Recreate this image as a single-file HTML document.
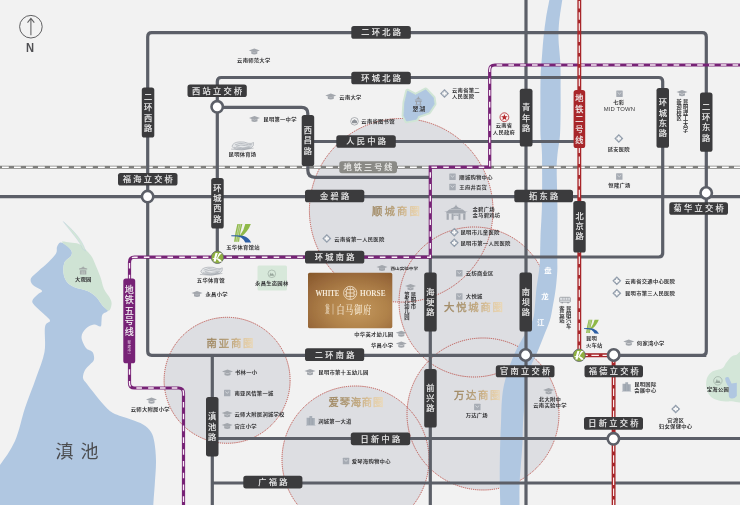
<!DOCTYPE html>
<html lang="zh-CN"><head><meta charset="utf-8"><title>区位图</title>
<style>html,body{margin:0;padding:0;background:#f2f2f2;overflow:hidden}svg{display:block}</style>
</head><body>
<svg width="740" height="505" viewBox="0 0 740 505" font-family='"Liberation Sans","Noto Sans CJK SC",sans-serif'>
<defs>
<radialGradient id="gold" cx="0.56" cy="0.62" r="0.8" fx="0.6" fy="0.7">
<stop offset="0" stop-color="#c3975c"/><stop offset="0.45" stop-color="#b0824a"/><stop offset="0.8" stop-color="#98683a"/><stop offset="1" stop-color="#885a2c"/>
</radialGradient>
<linearGradient id="sq" x1="0" y1="0" x2="1" y2="0">
<stop offset="0" stop-color="#9e8660"/><stop offset="0.3" stop-color="#ab956f"/><stop offset="0.55" stop-color="#c3a97f"/><stop offset="0.75" stop-color="#dec59c"/><stop offset="1" stop-color="#ecdab9"/>
</linearGradient>
</defs>
<filter id="soft" x="-2%" y="-2%" width="104%" height="104%"><feGaussianBlur stdDeviation="0.35"/></filter>
<g filter="url(#soft)">
<rect x="-10" y="-10" width="760" height="525" fill="#f2f2f2"/>
<path d="M60.3,242.5 C61.8,242.2 64.2,243.7 66.0,245.0 C67.8,246.3 70.3,248.5 71.2,250.3 C72.1,252.1 72.3,253.7 71.2,255.7 C70.1,257.7 65.9,259.4 64.6,262.3 C63.3,265.2 63.1,269.8 63.5,273.0 C63.9,276.2 65.0,279.4 66.8,281.8 C68.6,284.2 71.0,285.8 74.5,287.3 C78.0,288.8 83.9,289.4 87.5,291.0 C91.1,292.6 93.7,294.6 96.2,297.1 C98.7,299.6 100.7,303.6 102.7,305.8 C104.7,308.0 108.0,309.1 108.0,310.5 C108.0,311.9 103.6,312.8 102.5,314.5 C101.4,316.2 101.8,319.0 101.5,321.0 C101.2,323.0 101.8,325.9 100.5,326.5 C99.2,327.1 96.4,324.2 94.0,324.5 C91.6,324.8 88.1,326.4 86.0,328.5 C83.9,330.6 81.5,333.8 81.5,337.0 C81.5,340.2 84.2,345.5 86.0,348.0 C87.8,350.5 91.2,350.1 92.5,352.0 C93.8,353.9 94.4,357.4 94.0,359.5 C93.6,361.6 91.5,362.8 90.0,364.5 C88.5,366.2 86.2,367.8 85.0,370.0 C83.8,372.2 82.7,375.7 83.0,378.0 C83.3,380.3 85.2,381.5 87.0,384.0 C88.8,386.5 91.3,389.7 94.0,393.0 C96.7,396.3 99.8,400.7 103.0,404.0 C106.2,407.3 108.3,410.4 113.0,413.0 C117.7,415.6 126.0,417.6 131.0,419.5 C136.0,421.4 139.7,422.4 143.0,424.5 C146.3,426.6 149.1,428.9 151.0,432.0 C152.9,435.1 153.7,438.2 154.5,443.0 C155.3,447.8 155.9,454.2 156.0,461.0 C156.1,467.8 155.2,477.5 154.8,484.0 C154.4,490.5 153.9,495.3 153.6,500.0 C153.3,504.7 153.2,507.0 153.0,512.0 C152.8,517.0 181.3,527.0 152.5,530.0 C123.7,533.0 7.4,538.3 -20.0,530.0 C-47.4,521.7 -15.3,490.8 -12.0,480.0 C-8.7,469.2 -4.5,471.5 0.0,465.0 C4.5,458.5 10.8,450.5 15.0,441.0 C19.2,431.5 21.5,418.5 25.0,408.0 C28.5,397.5 32.8,387.3 36.0,378.0 C39.2,368.7 43.0,360.5 44.5,352.0 C46.0,343.5 44.1,332.2 45.0,327.0 C45.9,321.8 49.8,322.8 50.0,321.0 C50.2,319.2 47.7,317.8 46.0,316.0 C44.3,314.2 41.8,312.3 39.6,310.2 C37.4,308.1 34.1,305.4 33.0,303.6 C31.9,301.8 32.1,300.9 33.0,299.3 C33.9,297.7 37.0,295.2 38.5,293.8 C40.0,292.4 42.7,292.1 41.8,290.6 C40.9,289.2 34.8,287.1 33.0,285.1 C31.2,283.1 30.0,281.0 30.9,278.6 C31.8,276.2 35.6,273.7 38.5,271.0 C41.4,268.3 45.4,265.2 48.3,262.3 C51.2,259.4 54.5,256.1 56.0,253.5 C57.5,250.9 56.3,248.8 57.0,247.0 C57.7,245.2 58.8,242.8 60.3,242.5Z" fill="#b0c7e1"/>
<path d="M62.0,241.6 C62.7,241.1 67.2,242.1 70.0,242.5 C72.8,242.9 76.5,242.9 79.0,244.0 C81.5,245.1 83.2,247.1 85.3,249.2 C87.4,251.3 90.0,253.9 91.8,256.8 C93.6,259.7 94.7,263.2 96.2,266.6 C97.7,270.1 99.3,273.9 100.6,277.5 C101.9,281.1 102.3,285.1 103.8,288.4 C105.2,291.7 108.0,294.6 109.3,297.1 C110.6,299.6 111.6,301.3 111.6,303.6 C111.5,305.9 110.5,310.4 109.0,310.8 C107.5,311.2 104.8,308.1 102.7,305.8 C100.6,303.5 98.7,299.6 96.2,297.1 C93.7,294.6 91.1,292.6 87.5,291.0 C83.9,289.4 78.0,288.8 74.5,287.3 C71.0,285.8 68.6,284.2 66.8,281.8 C65.0,279.4 63.9,276.2 63.5,273.0 C63.1,269.8 63.3,265.2 64.6,262.3 C65.9,259.4 70.1,257.7 71.2,255.7 C72.3,253.7 72.1,252.0 71.2,250.3 C70.3,248.6 67.5,246.9 66.0,245.5 C64.5,244.1 61.3,242.1 62.0,241.6Z" fill="#cfe3d4"/>
<path d="M63.3,221.6 C70,227.5 82,238 85.6,251 L82.6,249 C80,241 70,231 63.3,221.6Z" fill="#d3e6d7" stroke="#b9cfdf" stroke-width="0.4"/>
<path d="M745.0,353.0 C743.5,345.8 738.3,354.4 736.0,355.0 C733.7,355.6 733.0,355.4 731.3,356.7 C729.6,358.0 727.5,361.1 726.0,363.0 C724.5,364.9 724.8,366.8 722.4,368.3 C720.0,369.8 714.3,370.1 711.7,371.9 C709.1,373.7 707.5,376.2 706.7,379.0 C705.9,381.8 706.0,385.8 706.7,388.8 C707.4,391.8 708.8,394.9 710.8,396.8 C712.8,398.7 715.4,399.6 718.8,400.4 C722.2,401.1 726.9,401.7 731.3,401.3 C735.7,400.9 742.7,406.1 745.0,398.0 C747.3,389.9 746.5,360.2 745.0,353.0Z" fill="#d3e6d8"/>
<path d="M725.2,378 Q727,376.5 728.8,377.5 L731.5,383.5 L736.8,382.8 L736.8,396 Q734,399.5 730.5,398.3 Q728.5,397.5 728.8,394 L728.8,387 Q725,382 725.2,378Z" fill="#b0c7e1"/>
<rect x="257.5" y="265.5" width="29.5" height="25" rx="1.5" fill="#d7e8da"/>
<circle cx="401.2" cy="210.3" r="91.8" fill="#dddee2"/>
<circle cx="474.0" cy="302.0" r="75.0" fill="#dddee2"/>
<circle cx="483.0" cy="414.0" r="76.0" fill="#dddee2"/>
<circle cx="355.5" cy="459.5" r="73.5" fill="#dddee2"/>
<circle cx="227.1" cy="380.3" r="63.0" fill="#dddee2"/>
<circle cx="401.2" cy="210.3" r="91.8" fill="none" stroke="#b8443c" stroke-width="0.9" stroke-dasharray="1.2 0.9"/>
<circle cx="474.0" cy="302.0" r="75.0" fill="none" stroke="#b8443c" stroke-width="0.9" stroke-dasharray="1.2 0.9"/>
<circle cx="483.0" cy="414.0" r="76.0" fill="none" stroke="#b8443c" stroke-width="0.9" stroke-dasharray="1.2 0.9"/>
<circle cx="355.5" cy="459.5" r="73.5" fill="none" stroke="#b8443c" stroke-width="0.9" stroke-dasharray="1.2 0.9"/>
<circle cx="227.1" cy="380.3" r="63.0" fill="none" stroke="#b8443c" stroke-width="0.9" stroke-dasharray="1.2 0.9"/>
<path d="M407.5,91.1 L415.5,95.2 L425.7,89.8 L433.3,97.8 L434.2,104.1 L428.9,112.1 L418.2,115.7 L416.4,119.2 L406.6,121 L403.9,115.7 L404.8,102.3Z" fill="#b0c7e1" stroke="#d0e5d5" stroke-width="4.6" stroke-linejoin="round"/>
<path d="M407.5,91.1 L415.5,95.2 L425.7,89.8 L433.3,97.8 L434.2,104.1 L428.9,112.1 L418.2,115.7 L416.4,119.2 L406.6,121 L403.9,115.7 L404.8,102.3Z" fill="#b0c7e1" stroke="#b0c7e1" stroke-width="0.8" stroke-linejoin="round"/>
<path d="M550.0,-3.0 C549.3,0.5 547.0,11.5 546.0,18.0 C545.0,24.5 544.4,29.7 543.7,36.0 C543.0,42.3 542.5,49.2 542.0,56.0 C541.5,62.8 540.9,68.0 540.6,77.0 C540.3,86.0 540.4,100.3 540.4,110.0 C540.4,119.7 540.2,127.5 540.5,135.0 C540.8,142.5 541.8,143.7 542.0,155.0 C542.2,166.3 542.2,189.3 542.0,203.0 C541.8,216.7 540.8,227.8 540.5,237.0 C540.2,246.2 540.2,252.3 540.0,258.0 C539.8,263.7 539.6,266.0 539.0,271.0 C538.4,276.0 537.2,282.3 536.5,288.0 C535.8,293.7 535.6,299.7 535.0,305.0 C534.4,310.3 534.6,314.9 532.8,320.0 C531.0,325.1 526.9,330.5 524.0,335.8 C521.1,341.1 517.9,346.4 515.4,351.7 C512.9,357.0 510.9,362.2 509.0,367.5 C507.1,372.8 505.5,378.0 504.3,383.4 C503.1,388.8 502.4,393.4 501.9,400.0 C501.3,406.6 501.3,415.8 501.0,423.0 C500.7,430.2 500.4,436.3 500.2,443.0 C500.0,449.7 499.9,456.3 499.8,463.0 C499.7,469.7 499.7,475.5 499.8,483.0 C499.9,490.5 500.3,503.8 500.4,508.0 L519.5,508.0 C519.5,503.8 519.4,490.5 519.6,483.0 C519.9,475.5 520.5,469.7 521.0,463.0 C521.5,456.3 522.2,449.7 522.5,443.0 C522.8,436.3 522.6,430.2 523.0,423.0 C523.4,415.8 524.3,406.6 524.9,400.0 C525.5,393.4 525.6,388.8 526.5,383.4 C527.4,378.0 528.6,372.8 530.4,367.5 C532.2,362.2 535.2,357.0 537.5,351.7 C539.8,346.4 541.8,341.1 543.9,335.8 C546.0,330.5 548.5,325.1 550.0,320.0 C551.5,314.9 552.0,310.3 553.0,305.0 C554.0,299.7 555.1,293.7 555.8,288.0 C556.5,282.3 557.0,276.0 557.3,271.0 C557.5,266.0 557.3,263.7 557.3,258.0 C557.3,252.3 557.4,246.0 557.4,237.0 C557.4,228.0 557.5,215.2 557.4,204.0 C557.3,192.8 556.7,178.2 556.7,170.0 C556.7,161.8 556.9,160.8 557.4,155.0 C557.9,149.2 559.5,142.3 560.0,135.0 C560.5,127.7 560.5,118.8 560.6,111.0 C560.7,103.2 560.6,95.8 560.6,88.0 C560.6,80.2 560.7,71.8 560.4,64.0 C560.1,56.2 558.9,47.0 558.6,41.0 C558.3,35.0 558.5,32.3 558.7,28.0 C558.9,23.7 559.3,20.2 560.0,15.0 C560.7,9.8 562.3,0.0 562.8,-3.0 Z" fill="#b0c7e1"/>
<path d="M-10,167.2H750" stroke="#80807e" stroke-width="3" fill="none"/>
<path d="M-10,167.2H750" stroke="#ffffff" stroke-width="1.35" stroke-dasharray="6.8 5.2" fill="none"/>
<path d="M706.3,355.3 H151.7 Q147.7,355.3 147.7,351.3 V36.7 Q147.7,32.7 151.7,32.7 H702.3 Q706.3,32.7 706.3,36.7 V351.3 Q706.3,355.3 702.3,355.3" stroke="#5b5f67" stroke-width="3.2" fill="none"/>
<path d="M217.3,257 V81.5 Q217.3,77.5 221.3,77.5 H658.7 Q662.7,77.5 662.7,81.5 V253 Q662.7,257 658.7,257 H217.3" stroke="#5b5f67" stroke-width="3.2" fill="none"/>
<path d="M217.3,107.3 H301.5 Q307.8,107.3 307.8,113.5 V170 Q307.8,177.3 315,177.3 H432" stroke="#5b5f67" stroke-width="3.2" fill="none"/>
<path d="M307.8,141.5 H575" stroke="#5b5f67" stroke-width="3.2" fill="none"/>
<path d="M-10,196.6 H750" stroke="#5b5f67" stroke-width="3.2" fill="none"/>
<path d="M212.3,355 V515" stroke="#5b5f67" stroke-width="3.2" fill="none"/>
<path d="M212.3,438.5 H750" stroke="#5b5f67" stroke-width="3.2" fill="none"/>
<path d="M212.3,483 H750" stroke="#5b5f67" stroke-width="3.2" fill="none"/>
<path d="M430.3,257 V515" stroke="#5b5f67" stroke-width="3.2" fill="none"/>
<path d="M526,-10 V515" stroke="#5b5f67" stroke-width="3.2" fill="none"/>
<path d="M750,65 H495 Q489.7,65 489.7,70 V167.2 H430.3 V257.2 H134.5 Q129.5,257.2 129.5,262.2 V383 Q129.5,388 134.5,388 H178.5 Q183.5,388 183.5,393 V515" stroke="#772376" stroke-width="3.2" fill="none"/>
<path d="M750,65 H495 Q489.7,65 489.7,70 V167.2 H430.3 V257.2 H134.5 Q129.5,257.2 129.5,262.2 V383 Q129.5,388 134.5,388 H178.5 Q183.5,388 183.5,393 V515" stroke="#faeef8" stroke-width="1.35" stroke-dasharray="5.6 6.2" fill="none"/>
<path d="M579.3,-10 V355.3 H613.6 V515" stroke="#a8282b" stroke-width="3.9" fill="none"/>
<path d="M579.3,-10 V355.3 H613.6 V515" stroke="#fdf0f0" stroke-width="1.15" stroke-dasharray="7.5 3.6" fill="none"/>
<rect x="351.3" y="26.0" width="59.5" height="12.8" rx="2.6" fill="#3a3a3c"/>
<text x="382.2" y="35.3" font-size="8.2" font-weight="400" stroke="#f4f4f4" stroke-width="0.15" letter-spacing="2.3" text-anchor="middle" fill="#f4f4f4">二环北路</text>
<rect x="351.3" y="71.7" width="59.5" height="12.6" rx="2.6" fill="#3a3a3c"/>
<text x="382.2" y="80.9" font-size="8.2" font-weight="400" stroke="#f4f4f4" stroke-width="0.15" letter-spacing="2.3" text-anchor="middle" fill="#f4f4f4">环城北路</text>
<rect x="336.3" y="135.2" width="59.5" height="12.6" rx="2.6" fill="#3a3a3c"/>
<text x="367.2" y="144.4" font-size="8.2" font-weight="400" stroke="#f4f4f4" stroke-width="0.15" letter-spacing="2.3" text-anchor="middle" fill="#f4f4f4">人民中路</text>
<rect x="339.3" y="161.2" width="57.7" height="12.0" rx="2.6" fill="#8a8a86"/>
<text x="369.1" y="170.1" font-size="8.2" font-weight="400" stroke="#f0f0ee" stroke-width="0.15" letter-spacing="2.0" text-anchor="middle" fill="#f0f0ee">地铁三号线</text>
<rect x="305.0" y="189.7" width="59.3" height="12.6" rx="2.6" fill="#3a3a3c"/>
<text x="335.8" y="198.9" font-size="8.2" font-weight="400" stroke="#f4f4f4" stroke-width="0.15" letter-spacing="2.3" text-anchor="middle" fill="#f4f4f4">金碧路</text>
<rect x="514.3" y="189.7" width="58.7" height="12.6" rx="2.6" fill="#3a3a3c"/>
<text x="544.8" y="198.9" font-size="8.2" font-weight="400" stroke="#f4f4f4" stroke-width="0.15" letter-spacing="2.3" text-anchor="middle" fill="#f4f4f4">拓东路</text>
<rect x="305.0" y="250.7" width="59.3" height="12.8" rx="2.6" fill="#3a3a3c"/>
<text x="335.8" y="260.0" font-size="8.2" font-weight="400" stroke="#f4f4f4" stroke-width="0.15" letter-spacing="2.3" text-anchor="middle" fill="#f4f4f4">环城南路</text>
<rect x="305.0" y="348.3" width="59.2" height="12.7" rx="2.6" fill="#3a3a3c"/>
<text x="335.8" y="357.5" font-size="8.2" font-weight="400" stroke="#f4f4f4" stroke-width="0.15" letter-spacing="2.3" text-anchor="middle" fill="#f4f4f4">二环南路</text>
<rect x="350.8" y="432.6" width="59.4" height="12.6" rx="2.6" fill="#3a3a3c"/>
<text x="381.6" y="441.8" font-size="8.2" font-weight="400" stroke="#f4f4f4" stroke-width="0.15" letter-spacing="2.3" text-anchor="middle" fill="#f4f4f4">日新中路</text>
<rect x="243.3" y="475.8" width="59.1" height="12.6" rx="2.6" fill="#3a3a3c"/>
<text x="274.0" y="485.0" font-size="8.2" font-weight="400" stroke="#f4f4f4" stroke-width="0.15" letter-spacing="2.3" text-anchor="middle" fill="#f4f4f4">广福路</text>
<rect x="141.8" y="87.5" width="12.5" height="50.0" rx="2.6" fill="#3a3a3c"/>
<text font-size="8.2" font-weight="400" stroke="#f4f4f4" stroke-width="0.15" text-anchor="middle" fill="#f4f4f4"><tspan x="148.1" y="99.9">二</tspan><tspan x="148.1" y="110.2">环</tspan><tspan x="148.1" y="120.5">西</tspan><tspan x="148.1" y="130.8">路</tspan></text>
<rect x="211.2" y="178.0" width="12.5" height="50.5" rx="2.6" fill="#3a3a3c"/>
<text font-size="8.2" font-weight="400" stroke="#f4f4f4" stroke-width="0.15" text-anchor="middle" fill="#f4f4f4"><tspan x="217.4" y="190.7">环</tspan><tspan x="217.4" y="201.0">城</tspan><tspan x="217.4" y="211.3">西</tspan><tspan x="217.4" y="221.6">路</tspan></text>
<rect x="301.7" y="115.0" width="12.5" height="51.0" rx="2.6" fill="#3a3a3c"/>
<text font-size="8.2" font-weight="400" stroke="#f4f4f4" stroke-width="0.15" text-anchor="middle" fill="#f4f4f4"><tspan x="307.9" y="133.1">西</tspan><tspan x="307.9" y="143.4">昌</tspan><tspan x="307.9" y="153.7">路</tspan></text>
<rect x="206.0" y="397.0" width="12.5" height="59.4" rx="2.6" fill="#3a3a3c"/>
<text font-size="8.2" font-weight="400" stroke="#f4f4f4" stroke-width="0.15" text-anchor="middle" fill="#f4f4f4"><tspan x="212.2" y="419.3">滇</tspan><tspan x="212.2" y="429.6">池</tspan><tspan x="212.2" y="439.9">路</tspan></text>
<rect x="424.2" y="272.5" width="12.5" height="59.0" rx="2.6" fill="#3a3a3c"/>
<text font-size="8.2" font-weight="400" stroke="#f4f4f4" stroke-width="0.15" text-anchor="middle" fill="#f4f4f4"><tspan x="430.4" y="294.6">海</tspan><tspan x="430.4" y="304.9">埂</tspan><tspan x="430.4" y="315.2">路</tspan></text>
<rect x="424.2" y="369.0" width="12.5" height="58.5" rx="2.6" fill="#3a3a3c"/>
<text font-size="8.2" font-weight="400" stroke="#f4f4f4" stroke-width="0.15" text-anchor="middle" fill="#f4f4f4"><tspan x="430.4" y="390.8">前</tspan><tspan x="430.4" y="401.1">兴</tspan><tspan x="430.4" y="411.4">路</tspan></text>
<rect x="519.8" y="88.7" width="12.7" height="57.8" rx="2.6" fill="#3a3a3c"/>
<text font-size="8.2" font-weight="400" stroke="#f4f4f4" stroke-width="0.15" text-anchor="middle" fill="#f4f4f4"><tspan x="526.1" y="110.2">青</tspan><tspan x="526.1" y="120.5">年</tspan><tspan x="526.1" y="130.8">路</tspan></text>
<rect x="519.5" y="272.5" width="12.5" height="59.0" rx="2.6" fill="#3a3a3c"/>
<text font-size="8.2" font-weight="400" stroke="#f4f4f4" stroke-width="0.15" text-anchor="middle" fill="#f4f4f4"><tspan x="525.8" y="294.6">南</tspan><tspan x="525.8" y="304.9">坝</tspan><tspan x="525.8" y="315.2">路</tspan></text>
<rect x="573.6" y="90.0" width="11.6" height="58.0" rx="2.6" fill="#a8282b"/>
<text font-size="8.2" font-weight="400" stroke="#f4f4f4" stroke-width="0.15" text-anchor="middle" fill="#f4f4f4"><tspan x="579.4" y="101.3">地</tspan><tspan x="579.4" y="111.6">铁</tspan><tspan x="579.4" y="121.9">二</tspan><tspan x="579.4" y="132.2">号</tspan><tspan x="579.4" y="142.5">线</tspan></text>
<rect x="573.3" y="201.0" width="12.4" height="51.6" rx="2.6" fill="#3a3a3c"/>
<text font-size="8.2" font-weight="400" stroke="#f4f4f4" stroke-width="0.15" text-anchor="middle" fill="#f4f4f4"><tspan x="579.5" y="218.6">北</tspan><tspan x="579.5" y="228.9">京</tspan><tspan x="579.5" y="239.2">路</tspan></text>
<rect x="656.5" y="88.0" width="12.5" height="59.8" rx="2.6" fill="#3a3a3c"/>
<text font-size="8.2" font-weight="400" stroke="#f4f4f4" stroke-width="0.15" text-anchor="middle" fill="#f4f4f4"><tspan x="662.8" y="105.3">环</tspan><tspan x="662.8" y="115.6">城</tspan><tspan x="662.8" y="125.9">东</tspan><tspan x="662.8" y="136.2">路</tspan></text>
<rect x="700.0" y="92.5" width="12.5" height="59.3" rx="2.6" fill="#3a3a3c"/>
<text font-size="8.2" font-weight="400" stroke="#f4f4f4" stroke-width="0.15" text-anchor="middle" fill="#f4f4f4"><tspan x="706.2" y="109.6">二</tspan><tspan x="706.2" y="119.9">环</tspan><tspan x="706.2" y="130.2">东</tspan><tspan x="706.2" y="140.5">路</tspan></text>
<rect x="123.3" y="278.5" width="11.9" height="84.8" rx="2.6" fill="#772376"/>
<text font-size="9.0" font-weight="400" stroke="#f4f4f4" stroke-width="0.15" text-anchor="middle" fill="#f4f4f4"><tspan x="129.2" y="292.9">地</tspan><tspan x="129.2" y="303.4">铁</tspan><tspan x="129.2" y="313.8">五</tspan><tspan x="129.2" y="324.1">号</tspan><tspan x="129.2" y="334.6">线</tspan></text>
<text font-size="3.6" text-anchor="middle" fill="#f0dcee"><tspan x="129.3" y="340.5">︵</tspan><tspan x="129.3" y="344.4">在</tspan><tspan x="129.3" y="348.3">建</tspan><tspan x="129.3" y="352.2">中</tspan><tspan x="129.3" y="356.1">︶</tspan></text>
<circle cx="217.2" cy="106.8" r="5.7" fill="#ffffff" stroke="#5b5f67" stroke-width="2.6"/>
<rect x="187.5" y="84.5" width="59.3" height="12.5" rx="2.6" fill="#3a3a3c"/>
<text x="218.3" y="93.6" font-size="8.2" font-weight="400" stroke="#f4f4f4" stroke-width="0.15" letter-spacing="2.3" text-anchor="middle" fill="#f4f4f4">西站立交桥</text>
<circle cx="147.6" cy="196.6" r="5.7" fill="#ffffff" stroke="#5b5f67" stroke-width="2.6"/>
<rect x="118.0" y="173.0" width="59.5" height="12.5" rx="2.6" fill="#3a3a3c"/>
<text x="148.9" y="182.1" font-size="8.2" font-weight="400" stroke="#f4f4f4" stroke-width="0.15" letter-spacing="2.3" text-anchor="middle" fill="#f4f4f4">福海立交桥</text>
<circle cx="706.2" cy="193.0" r="5.7" fill="#ffffff" stroke="#5b5f67" stroke-width="2.6"/>
<rect x="669.3" y="202.3" width="58.7" height="12.5" rx="2.6" fill="#3a3a3c"/>
<text x="699.8" y="211.4" font-size="8.2" font-weight="400" stroke="#f4f4f4" stroke-width="0.15" letter-spacing="2.3" text-anchor="middle" fill="#f4f4f4">菊华立交桥</text>
<circle cx="525.6" cy="355.0" r="5.7" fill="#ffffff" stroke="#5b5f67" stroke-width="2.6"/>
<rect x="495.8" y="365.3" width="58.7" height="12.0" rx="2.6" fill="#3a3a3c"/>
<text x="526.3" y="374.2" font-size="8.2" font-weight="400" stroke="#f4f4f4" stroke-width="0.15" letter-spacing="2.3" text-anchor="middle" fill="#f4f4f4">官南立交桥</text>
<circle cx="613.7" cy="355.0" r="5.7" fill="#ffffff" stroke="#5b5f67" stroke-width="2.6"/>
<rect x="584.5" y="365.3" width="58.5" height="12.0" rx="2.6" fill="#3a3a3c"/>
<text x="614.9" y="374.2" font-size="8.2" font-weight="400" stroke="#f4f4f4" stroke-width="0.15" letter-spacing="2.3" text-anchor="middle" fill="#f4f4f4">福德立交桥</text>
<circle cx="613.4" cy="438.8" r="5.7" fill="#ffffff" stroke="#5b5f67" stroke-width="2.6"/>
<rect x="584.0" y="417.0" width="59.0" height="12.8" rx="2.6" fill="#3a3a3c"/>
<text x="614.6" y="426.3" font-size="8.2" font-weight="400" stroke="#f4f4f4" stroke-width="0.15" letter-spacing="2.3" text-anchor="middle" fill="#f4f4f4">日新立交桥</text>
<circle cx="217.4" cy="257.3" r="6.2" fill="#8fb040" stroke="#61666c" stroke-width="0.85"/>
<g transform="translate(212.70,253.10) scale(0.62)" fill="#ffffff"><path d="M4.6,0 L8.2,0 Q6,6 5,13.4 L1.4,13.4 Q2.6,6 4.6,0Z"/><path d="M10.7,0 L14.8,0 Q10.5,4 8,9.2 L6.6,8.6 Q8,3.5 10.7,0Z"/><path d="M0,8.1 Q6,7.9 9.4,8.9 Q13.4,10.3 15,14 L10.4,13.9 Q9.6,11.8 7.4,10.4 Q5,9.3 0,9.1Z"/></g>
<circle cx="579.2" cy="355.3" r="6.2" fill="#8fb040" stroke="#61666c" stroke-width="0.85"/>
<g transform="translate(574.50,351.10) scale(0.62)" fill="#ffffff"><path d="M4.6,0 L8.2,0 Q6,6 5,13.4 L1.4,13.4 Q2.6,6 4.6,0Z"/><path d="M10.7,0 L14.8,0 Q10.5,4 8,9.2 L6.6,8.6 Q8,3.5 10.7,0Z"/><path d="M0,8.1 Q6,7.9 9.4,8.9 Q13.4,10.3 15,14 L10.4,13.9 Q9.6,11.8 7.4,10.4 Q5,9.3 0,9.1Z"/></g>
<rect x="308" y="272.8" width="84.3" height="55.4" rx="1.6" fill="url(#gold)"/>
<text x="315.5" y="295.7" font-size="7.8" font-weight="bold" textLength="23.9" lengthAdjust="spacingAndGlyphs" fill="#f5ead8" font-family="'Liberation Serif',serif">WHITE</text>
<text x="360" y="295.7" font-size="7.8" font-weight="bold" textLength="25.5" lengthAdjust="spacingAndGlyphs" fill="#f5ead8" font-family="'Liberation Serif',serif">HORSE</text>
<g stroke="#f5ead8" stroke-width="0.75" fill="none"><circle cx="350.2" cy="292.9" r="6.6"/><path d="M346.4,289.6h7.6v6.8h-7.6zM350.2,287v12M346.4,293h7.6M347.6,287.4v2.2M352.8,287.4v2.2M345,291.3h1.4M354,291.3h1.4M345,294.8h1.4M354,294.8h1.4"/></g>
<text font-size="4.4" fill="#f5ead8" text-anchor="middle"><tspan x="327.5" y="308.4">俊</tspan><tspan x="327.5" y="313.2">发</tspan></text>
<path d="M333,303.8V314.5" stroke="#f5ead8" stroke-width="0.5"/>
<text transform="translate(336.4,314.3) scale(0.68,1)" font-size="11.8" font-weight="400" letter-spacing="1.4" fill="#fdf4e4" font-family="'Liberation Serif','Noto Serif CJK SC',serif">白马御府</text>
<text x="372.0" y="214.7" font-size="10.4" letter-spacing="2.07" fill="url(#sq)" stroke="url(#sq)" stroke-width="0.35" font-weight="400">顺城商圈</text>
<text x="444.0" y="311.4" font-size="10.4" letter-spacing="1.75" fill="url(#sq)" stroke="url(#sq)" stroke-width="0.35" font-weight="400">大悦城商圈</text>
<text x="454.0" y="399.3" font-size="10.4" letter-spacing="1.63" fill="url(#sq)" stroke="url(#sq)" stroke-width="0.35" font-weight="400">万达商圈</text>
<text x="206.5" y="347.0" font-size="10.4" letter-spacing="1.80" fill="url(#sq)" stroke="url(#sq)" stroke-width="0.35" font-weight="400">南亚商圈</text>
<text x="328.6" y="406.1" font-size="10.4" letter-spacing="0.70" fill="url(#sq)" stroke="url(#sq)" stroke-width="0.35" font-weight="400">爱琴海商圈</text>
<path d="M248.8,50.4 l5.5,-2 l5.5,2 l-5.5,2z M251.3,51.6 v2.2 q3,1.4 6,0 v-2.2 l-3,1.1z" fill="#a3a7ad"/>
<text transform="translate(253.8,62.05) scale(1,0.86)" font-size="5.35" font-weight="700" text-anchor="middle" fill="#333335" letter-spacing="0.25">云南师范大学</text>
<path d="M325.3,95.4 l5.5,-2 l5.5,2 l-5.5,2z M327.8,96.6 v2.2 q3,1.4 6,0 v-2.2 l-3,1.1z" fill="#a3a7ad"/>
<text transform="translate(339.3,98.55) scale(1,0.86)" font-size="5.35" font-weight="700" text-anchor="start" fill="#333335" letter-spacing="0.25">云南大学</text>
<path d="M249.0,117.9 l5.5,-2 l5.5,2 l-5.5,2z M251.5,119.1 v2.2 q3,1.4 6,0 v-2.2 l-3,1.1z" fill="#a3a7ad"/>
<text transform="translate(263.3,120.65) scale(1,0.86)" font-size="5.35" font-weight="700" text-anchor="start" fill="#333335" letter-spacing="0.25">昆明第一中学</text>
<path d="M191.5,292.9 l5.5,-2 l5.5,2 l-5.5,2z M194.0,294.1 v2.2 q3,1.4 6,0 v-2.2 l-3,1.1z" fill="#a3a7ad"/>
<text transform="translate(205.5,295.75) scale(1,0.86)" font-size="5.35" font-weight="700" text-anchor="start" fill="#333335" letter-spacing="0.25">永昌小学</text>
<path d="M376.5,266.9 l5.5,-2 l5.5,2 l-5.5,2z M379.0,268.1 v2.2 q3,1.4 6,0 v-2.2 l-3,1.1z" fill="#a3a7ad"/>
<text transform="translate(390.5,269.80) scale(1,0.86)" font-size="4.60" font-weight="700" text-anchor="start" fill="#333335">西山实验中学</text>
<path d="M395.8,332.7 l5.5,-2 l5.5,2 l-5.5,2z M398.3,333.9 v2.2 q3,1.4 6,0 v-2.2 l-3,1.1z" fill="#a3a7ad"/>
<text transform="translate(393.3,335.95) scale(1,0.86)" font-size="5.35" font-weight="700" text-anchor="end" fill="#333335" letter-spacing="0.25">中华英才幼儿园</text>
<path d="M395.8,343.6 l5.5,-2 l5.5,2 l-5.5,2z M398.3,344.8 v2.2 q3,1.4 6,0 v-2.2 l-3,1.1z" fill="#a3a7ad"/>
<text transform="translate(393.3,347.05) scale(1,0.86)" font-size="5.35" font-weight="700" text-anchor="end" fill="#333335" letter-spacing="0.25">华昌小学</text>
<path d="M222.0,371.6 l5.5,-2 l5.5,2 l-5.5,2z M224.5,372.8 v2.2 q3,1.4 6,0 v-2.2 l-3,1.1z" fill="#a3a7ad"/>
<text transform="translate(235.0,374.45) scale(1,0.86)" font-size="5.35" font-weight="700" text-anchor="start" fill="#333335" letter-spacing="0.25">书林一小</text>
<path d="M304.5,371.1 l5.5,-2 l5.5,2 l-5.5,2z M307.0,372.3 v2.2 q3,1.4 6,0 v-2.2 l-3,1.1z" fill="#a3a7ad"/>
<text transform="translate(318.3,374.25) scale(1,0.86)" font-size="5.35" font-weight="700" text-anchor="start" fill="#333335" letter-spacing="0.25">昆明市第十五幼儿园</text>
<path d="M221.7,413.1 l5.5,-2 l5.5,2 l-5.5,2z M224.2,414.3 v2.2 q3,1.4 6,0 v-2.2 l-3,1.1z" fill="#a3a7ad"/>
<text transform="translate(234.5,415.95) scale(1,0.86)" font-size="5.35" font-weight="700" text-anchor="start" fill="#333335" letter-spacing="0.25">云师大附属润城学校</text>
<path d="M221.7,424.9 l5.5,-2 l5.5,2 l-5.5,2z M224.2,426.1 v2.2 q3,1.4 6,0 v-2.2 l-3,1.1z" fill="#a3a7ad"/>
<text transform="translate(234.5,427.75) scale(1,0.86)" font-size="5.35" font-weight="700" text-anchor="start" fill="#333335" letter-spacing="0.25">官庄小学</text>
<path d="M146.0,399.6 l5.5,-2 l5.5,2 l-5.5,2z M148.5,400.8 v2.2 q3,1.4 6,0 v-2.2 l-3,1.1z" fill="#a3a7ad"/>
<text transform="translate(150.3,411.25) scale(1,0.86)" font-size="5.35" font-weight="700" text-anchor="middle" fill="#333335" letter-spacing="0.25">云师大附属小学</text>
<path d="M623.3,341.6 l5.5,-2 l5.5,2 l-5.5,2z M625.8,342.8 v2.2 q3,1.4 6,0 v-2.2 l-3,1.1z" fill="#a3a7ad"/>
<text transform="translate(636.8,344.75) scale(1,0.86)" font-size="5.35" font-weight="700" text-anchor="start" fill="#333335" letter-spacing="0.25">何家湾小学</text>
<path d="M543.1,390.1 l5.5,-2 l5.5,2 l-5.5,2z M545.6,391.3 v2.2 q3,1.4 6,0 v-2.2 l-3,1.1z" fill="#a3a7ad"/>
<text transform="translate(550.0,400.75) scale(1,0.86)" font-size="5.35" font-weight="700" text-anchor="middle" fill="#333335" letter-spacing="0.25">北大附中</text>
<text transform="translate(550.0,407.25) scale(1,0.86)" font-size="5.35" font-weight="700" text-anchor="middle" fill="#333335" letter-spacing="0.25">云南实验中学</text>
<path d="M405.0,286.1 l5.5,-2 l5.5,2 l-5.5,2z M407.5,287.3 v2.2 q3,1.4 6,0 v-2.2 l-3,1.1z" fill="#a3a7ad"/>
<text font-size="5.3" font-weight="700" text-anchor="middle" fill="#333335"><tspan x="413.3" y="296.5">昆</tspan><tspan x="413.3" y="302.1">明</tspan><tspan x="413.3" y="307.7">市</tspan></text>
<text font-size="5.3" font-weight="700" text-anchor="middle" fill="#333335"><tspan x="407.0" y="296.5">第</tspan><tspan x="407.0" y="302.1">九</tspan><tspan x="407.0" y="307.7">幼</tspan><tspan x="407.0" y="313.3">儿</tspan><tspan x="407.0" y="318.9">园</tspan></text>
<path d="M676.5,92.1 l5.5,-2 l5.5,2 l-5.5,2z M679.0,93.3 v2.2 q3,1.4 6,0 v-2.2 l-3,1.1z" fill="#a3a7ad"/>
<text font-size="5.2" font-weight="700" text-anchor="middle" fill="#333335"><tspan x="685.5" y="103.5">昆</tspan><tspan x="685.5" y="109.1">明</tspan><tspan x="685.5" y="114.7">理</tspan><tspan x="685.5" y="120.3">工</tspan><tspan x="685.5" y="125.9">大</tspan><tspan x="685.5" y="131.5">学</tspan></text>
<text font-size="5.2" font-weight="700" text-anchor="middle" fill="#333335"><tspan x="679.0" y="103.5">新</tspan><tspan x="679.0" y="109.1">迎</tspan><tspan x="679.0" y="114.7">校</tspan><tspan x="679.0" y="120.3">区</tspan></text>
<rect x="449.3" y="173.6" width="6.4" height="6.4" rx="0.5" fill="#a6abb3"/>
<path d="M450.6,175.4 l1.9,1.7 l1.9,-1.7" stroke="#e4e6e9" stroke-width="0.7" fill="none"/>
<text transform="translate(459.3,178.75) scale(1,0.86)" font-size="5.35" font-weight="700" text-anchor="start" fill="#333335" letter-spacing="0.25">顺城购物中心</text>
<rect x="449.3" y="183.8" width="6.4" height="6.4" rx="0.5" fill="#a6abb3"/>
<path d="M450.6,185.6 l1.9,1.7 l1.9,-1.7" stroke="#e4e6e9" stroke-width="0.7" fill="none"/>
<text transform="translate(459.3,188.95) scale(1,0.86)" font-size="5.35" font-weight="700" text-anchor="start" fill="#333335" letter-spacing="0.25">王府井百货</text>
<rect x="456.1" y="270.1" width="6.4" height="6.4" rx="0.5" fill="#a6abb3"/>
<path d="M457.4,271.9 l1.9,1.7 l1.9,-1.7" stroke="#e4e6e9" stroke-width="0.7" fill="none"/>
<text transform="translate(465.8,275.25) scale(1,0.86)" font-size="5.35" font-weight="700" text-anchor="start" fill="#333335" letter-spacing="0.25">云纺商业区</text>
<rect x="456.1" y="293.3" width="6.4" height="6.4" rx="0.5" fill="#a6abb3"/>
<path d="M457.4,295.1 l1.9,1.7 l1.9,-1.7" stroke="#e4e6e9" stroke-width="0.7" fill="none"/>
<text transform="translate(465.8,298.45) scale(1,0.86)" font-size="5.35" font-weight="700" text-anchor="start" fill="#333335" letter-spacing="0.25">大悦城</text>
<rect x="474.1" y="403.8" width="6.4" height="6.4" rx="0.5" fill="#a6abb3"/>
<path d="M475.4,405.6 l1.9,1.7 l1.9,-1.7" stroke="#e4e6e9" stroke-width="0.7" fill="none"/>
<text transform="translate(476.8,417.45) scale(1,0.86)" font-size="5.35" font-weight="700" text-anchor="middle" fill="#333335" letter-spacing="0.25">万达广场</text>
<rect x="224.0" y="389.8" width="6.4" height="6.4" rx="0.5" fill="#a6abb3"/>
<path d="M225.3,391.6 l1.9,1.7 l1.9,-1.7" stroke="#e4e6e9" stroke-width="0.7" fill="none"/>
<text transform="translate(234.5,394.95) scale(1,0.86)" font-size="5.35" font-weight="700" text-anchor="start" fill="#333335" letter-spacing="0.25">南亚风情第一城</text>
<rect x="342.8" y="457.8" width="6.4" height="6.4" rx="0.5" fill="#a6abb3"/>
<path d="M344.1,459.6 l1.9,1.7 l1.9,-1.7" stroke="#e4e6e9" stroke-width="0.7" fill="none"/>
<text transform="translate(351.7,462.95) scale(1,0.86)" font-size="5.35" font-weight="700" text-anchor="start" fill="#333335" letter-spacing="0.25">爱琴海购物中心</text>
<rect x="616.3" y="90.6" width="6.4" height="6.4" rx="0.5" fill="#a6abb3"/>
<path d="M617.6,92.4 l1.9,1.7 l1.9,-1.7" stroke="#e4e6e9" stroke-width="0.7" fill="none"/>
<text transform="translate(618.8,104.35) scale(1,0.86)" font-size="5.35" font-weight="700" text-anchor="middle" fill="#333335" letter-spacing="0.25">七彩</text>
<text x="619.4" y="111.2" font-size="5.9" text-anchor="middle" fill="#3a3a3c" letter-spacing="0.15">MID TOWN</text>
<rect x="616.1" y="173.3" width="6.4" height="6.4" rx="0.5" fill="#a6abb3"/>
<path d="M617.4,175.1 l1.9,1.7 l1.9,-1.7" stroke="#e4e6e9" stroke-width="0.7" fill="none"/>
<text transform="translate(619.5,186.55) scale(1,0.86)" font-size="5.35" font-weight="700" text-anchor="middle" fill="#333335" letter-spacing="0.25">恒隆广场</text>
<path d="M440.0,93.5 l4.5,-4.5 l4.5,4.5 l-4.5,4.5z" fill="#939eac"/>
<path d="M443.60,91.20 h1.8 v1.4 h1.4 v1.8 h-1.4 v1.4 h-1.8 v-1.4 h-1.4 v-1.8 h1.4z" fill="#f7f7f7"/>
<text transform="translate(452.0,91.75) scale(1,0.86)" font-size="5.35" font-weight="700" text-anchor="start" fill="#333335" letter-spacing="0.25">云南省第二</text>
<text transform="translate(452.0,98.25) scale(1,0.86)" font-size="5.35" font-weight="700" text-anchor="start" fill="#333335" letter-spacing="0.25">人民医院</text>
<path d="M614.3,138.5 l4.5,-4.5 l4.5,4.5 l-4.5,4.5z" fill="#939eac"/>
<path d="M617.90,136.20 h1.8 v1.4 h1.4 v1.8 h-1.4 v1.4 h-1.8 v-1.4 h-1.4 v-1.8 h1.4z" fill="#f7f7f7"/>
<text transform="translate(618.8,151.05) scale(1,0.86)" font-size="5.35" font-weight="700" text-anchor="middle" fill="#333335" letter-spacing="0.25">延安医院</text>
<path d="M322.3,238.5 l4.5,-4.5 l4.5,4.5 l-4.5,4.5z" fill="#939eac"/>
<path d="M325.90,236.20 h1.8 v1.4 h1.4 v1.8 h-1.4 v1.4 h-1.8 v-1.4 h-1.4 v-1.8 h1.4z" fill="#f7f7f7"/>
<text transform="translate(334.3,240.55) scale(1,0.86)" font-size="5.35" font-weight="700" text-anchor="start" fill="#333335" letter-spacing="0.25">云南省第一人民医院</text>
<path d="M449.8,232.3 l4.5,-4.5 l4.5,4.5 l-4.5,4.5z" fill="#939eac"/>
<path d="M453.40,230.00 h1.8 v1.4 h1.4 v1.8 h-1.4 v1.4 h-1.8 v-1.4 h-1.4 v-1.8 h1.4z" fill="#f7f7f7"/>
<text transform="translate(460.5,234.25) scale(1,0.86)" font-size="5.35" font-weight="700" text-anchor="start" fill="#333335" letter-spacing="0.25">昆明市儿童医院</text>
<path d="M449.8,242.8 l4.5,-4.5 l4.5,4.5 l-4.5,4.5z" fill="#939eac"/>
<path d="M453.40,240.50 h1.8 v1.4 h1.4 v1.8 h-1.4 v1.4 h-1.8 v-1.4 h-1.4 v-1.8 h1.4z" fill="#f7f7f7"/>
<text transform="translate(460.5,244.75) scale(1,0.86)" font-size="5.35" font-weight="700" text-anchor="start" fill="#333335" letter-spacing="0.25">昆明市第一人民医院</text>
<path d="M612.3,280.8 l4.5,-4.5 l4.5,4.5 l-4.5,4.5z" fill="#939eac"/>
<path d="M615.90,278.50 h1.8 v1.4 h1.4 v1.8 h-1.4 v1.4 h-1.8 v-1.4 h-1.4 v-1.8 h1.4z" fill="#f7f7f7"/>
<text transform="translate(625.0,282.75) scale(1,0.86)" font-size="5.35" font-weight="700" text-anchor="start" fill="#333335" letter-spacing="0.25">云南省交通中心医院</text>
<path d="M612.3,293.3 l4.5,-4.5 l4.5,4.5 l-4.5,4.5z" fill="#939eac"/>
<path d="M615.90,291.00 h1.8 v1.4 h1.4 v1.8 h-1.4 v1.4 h-1.8 v-1.4 h-1.4 v-1.8 h1.4z" fill="#f7f7f7"/>
<text transform="translate(625.0,295.25) scale(1,0.86)" font-size="5.35" font-weight="700" text-anchor="start" fill="#333335" letter-spacing="0.25">昆明市第三人民医院</text>
<path d="M671.2,409.0 l4.5,-4.5 l4.5,4.5 l-4.5,4.5z" fill="#939eac"/>
<path d="M674.80,406.70 h1.8 v1.4 h1.4 v1.8 h-1.4 v1.4 h-1.8 v-1.4 h-1.4 v-1.8 h1.4z" fill="#f7f7f7"/>
<text transform="translate(675.7,421.75) scale(1,0.86)" font-size="5.35" font-weight="700" text-anchor="middle" fill="#333335" letter-spacing="0.25">官渡区</text>
<text transform="translate(675.7,428.05) scale(1,0.86)" font-size="5.35" font-weight="700" text-anchor="middle" fill="#333335" letter-spacing="0.25">妇女保健中心</text>
<path d="M306.6,424.9 v-7.2 h2.8 v-1.6 h2.8 v2 h2.6 v6.8 h0.6 v0.6 h-9.4 v-0.6z" fill="#a7aeb7"/><path d="M309.4,424.9 v-7 M312.2,424.9 v-6.6" stroke="#8c95a0" stroke-width="0.45"/>
<text transform="translate(318.2,422.75) scale(1,0.86)" font-size="5.35" font-weight="700" text-anchor="start" fill="#333335" letter-spacing="0.25">润城第一大道</text>
<path d="M622.5,391.0 v-7.2 h2.8 v-1.6 h2.8 v2 h2.6 v6.8 h0.6 v0.6 h-9.4 v-0.6z" fill="#a7aeb7"/><path d="M625.3,391.0 v-7 M628.1,391.0 v-6.6" stroke="#8c95a0" stroke-width="0.45"/>
<text transform="translate(634.2,385.95) scale(1,0.86)" font-size="5.35" font-weight="700" text-anchor="start" fill="#333335" letter-spacing="0.25">昆明国际</text>
<text transform="translate(634.2,392.15) scale(1,0.86)" font-size="5.35" font-weight="700" text-anchor="start" fill="#333335" letter-spacing="0.25">会展中心</text>
<circle cx="354.5" cy="121.3" r="3.8" fill="#f5f5f5" stroke="#8f9399" stroke-width="0.7"/><path d="M352,123.2v-2.2l2.5,-1.8l2.5,1.8v2.2z" fill="#8f9399"/>
<text transform="translate(361.3,122.75) scale(1,0.86)" font-size="5.35" font-weight="700" text-anchor="start" fill="#333335" letter-spacing="0.25">云南省图书馆</text>
<g stroke="#8f959d" stroke-width="0.5" fill="none"><path d="M232.1,146.3 q0.6,-3.8 7,-4.4 q5.5,-0.4 9,1.4 q3.5,0.6 5.4,-0.8 q0.8,3.6 -2.6,5.6 q-6.4,2.2 -14.4,1 q-4,-0.8 -4.4,-2.8z" fill="#e6e8ea"/><path d="M234.9,144.9 q5,-2.8 10.5,-0.8 q3,1.2 6.5,0.2 M236.1,146.1 q5,-2 9.5,-0.4 q3,1 6,0.2 M234.1,147.3 q7,2.6 16.5,0.2 M236.5,146.9 q6,1.8 13,0.2 M231.1,149.1 q10.5,2.2 22.5,-1"/></g>
<text transform="translate(242.5,156.05) scale(1,0.86)" font-size="5.35" font-weight="700" text-anchor="middle" fill="#333335" letter-spacing="0.25">昆明体育场</text>
<g stroke="#8f959d" stroke-width="0.5" fill="none"><path d="M200.9,271.6 q0.6,-3.8 7,-4.4 q5.5,-0.4 9,1.4 q3.5,0.6 5.4,-0.8 q0.8,3.6 -2.6,5.6 q-6.4,2.2 -14.4,1 q-4,-0.8 -4.4,-2.8z" fill="#e6e8ea"/><path d="M203.7,270.2 q5,-2.8 10.5,-0.8 q3,1.2 6.5,0.2 M204.9,271.4 q5,-2 9.5,-0.4 q3,1 6,0.2 M202.9,272.6 q7,2.6 16.5,0.2 M205.3,272.2 q6,1.8 13,0.2 M199.9,274.4 q10.5,2.2 22.5,-1"/></g>
<text transform="translate(210.8,282.05) scale(1,0.86)" font-size="5.35" font-weight="700" text-anchor="middle" fill="#333335" letter-spacing="0.25">五华体育馆</text>
<g transform="translate(231.3,224.1) scale(1.32)"><path d="M4.6,0 L8.4,0 Q6.6,6 5.9,13.4 L2.1,13.4 Q3,6 4.6,0Z" fill="#8fb94a"/><path d="M5.9,0 Q4.3,6 3.5,13.4 M7.1,0 Q5.5,6 4.7,13.4" stroke="#f2f2f2" stroke-width="0.35" fill="none"/><path d="M10.6,0 L14.8,0 Q12.8,5.5 7.6,9.6 L6.4,8.8 Q9.6,5 10.6,0Z" fill="#8fb94a"/><path d="M0,8.5 Q6,8.2 9.4,9 Q13.4,10.3 15,14 L10.6,13.9 Q9.8,11.8 7.6,10.3 Q5.4,9.2 0,9.2Z" fill="#2d5fa5"/></g>
<text transform="translate(243.0,248.95) scale(1,0.86)" font-size="5.35" font-weight="700" text-anchor="middle" fill="#333335" letter-spacing="0.25">五华体育馆站</text>
<g transform="translate(584.0,319.7) scale(1.00)"><path d="M4.6,0 L8.4,0 Q6.6,6 5.9,13.4 L2.1,13.4 Q3,6 4.6,0Z" fill="#8fb94a"/><path d="M5.9,0 Q4.3,6 3.5,13.4 M7.1,0 Q5.5,6 4.7,13.4" stroke="#f2f2f2" stroke-width="0.35" fill="none"/><path d="M10.6,0 L14.8,0 Q12.8,5.5 7.6,9.6 L6.4,8.8 Q9.6,5 10.6,0Z" fill="#8fb94a"/><path d="M0,8.5 Q6,8.2 9.4,9 Q13.4,10.3 15,14 L10.6,13.9 Q9.8,11.8 7.6,10.3 Q5.4,9.2 0,9.2Z" fill="#2d5fa5"/></g>
<text transform="translate(585.9,340.45) scale(1,0.86)" font-size="5.35" font-weight="700" text-anchor="start" fill="#333335" letter-spacing="0.25">昆明</text>
<text transform="translate(585.9,346.75) scale(1,0.86)" font-size="5.35" font-weight="700" text-anchor="start" fill="#333335" letter-spacing="0.25">火车站</text>
<circle cx="271.8" cy="273.8" r="3.8" fill="none" stroke="#96a59b" stroke-width="0.6"/><path d="M269.3,275.8 l1.5,-3.4 l1,2 l0.9,-1.4 l1.5,2.8z" fill="#96a59b"/>
<text transform="translate(271.8,284.75) scale(1,0.86)" font-size="5.35" font-weight="700" text-anchor="middle" fill="#333335" letter-spacing="0.25">永昌生态园林</text>
<path d="M79,268.6 q4.1,-0.8 4.1,-2.8 q0,2 4.1,2.8 v1 h-8.2z M79.9,270.2 h6.4 v4.2 h-6.4z" fill="#a3a9a8"/><path d="M82.1,271.2v3.2M84.1,271.2v3.2" stroke="#dce8df" stroke-width="0.6"/>
<text transform="translate(83.3,281.25) scale(1,0.86)" font-size="5.35" font-weight="700" text-anchor="middle" fill="#333335" letter-spacing="0.25">大观园</text>
<path d="M414.2,99.6 q4,-0.8 4.2,-3.8 q0.2,3 4.2,3.8z M415,101.8 h6.8 v-1.2 h-6.8z M416,101.8v3h1v-3z M419.8,101.8v3h1v-3z M415.3,104.6h6.2v0.7h-6.2z" fill="#9aa0a8"/>
<text transform="translate(419.2,111.16) scale(1,0.86)" font-size="6.00" font-weight="700" text-anchor="middle" fill="#3a3a3c" letter-spacing="0.80">翠湖</text>
<circle cx="504.4" cy="117.2" r="4.4" fill="#f8eeee" stroke="#b3282c" stroke-width="0.8"/>
<polygon points="504.40,113.90 505.25,116.23 507.73,116.32 505.78,117.85 506.46,120.23 504.40,118.85 502.34,120.23 503.02,117.85 501.07,116.32 503.55,116.23" fill="#b3282c"/>
<text transform="translate(504.0,127.45) scale(1,0.86)" font-size="5.35" font-weight="700" text-anchor="middle" fill="#333335" letter-spacing="0.25">云南省</text>
<text transform="translate(504.0,134.05) scale(1,0.86)" font-size="5.35" font-weight="700" text-anchor="middle" fill="#333335" letter-spacing="0.25">人民政府</text>
<g fill="#a2a7af"><path d="M449.8,209.2 q1.2,-0.3 1.6,-1 q4,-0.8 4.6,-4 q0.6,3.2 4.6,4 q0.4,0.7 1.6,1z"/><path d="M444,212 q3.6,-0.5 5.2,-2.6 h13.6 q1.6,2.1 5.2,2.6z"/><rect x="446.3" y="212" width="19.4" height="1.5"/><rect x="446.6" y="213.5" width="2.2" height="6.3"/><rect x="451.6" y="213.5" width="1.9" height="6.3"/><rect x="458.5" y="213.5" width="1.9" height="6.3"/><rect x="463.2" y="213.5" width="2.2" height="6.3"/><path d="M453.5,214.6 h5 v1.6 q-2.5,-1.6 -5,0z"/></g>
<text transform="translate(472.5,211.05) scale(1,0.86)" font-size="5.35" font-weight="700" text-anchor="start" fill="#333335" letter-spacing="0.25">金碧广场</text>
<text transform="translate(472.5,217.25) scale(1,0.86)" font-size="5.35" font-weight="700" text-anchor="start" fill="#333335" letter-spacing="0.25">金马碧鸡坊</text>
<rect x="559.6" y="297.3" width="10.8" height="5" rx="0.9" fill="#dfe2e5" stroke="#8f9399" stroke-width="0.7"/><path d="M560,300.3h10M562.8,297.5v2.6M565.3,297.5v2.6M567.8,297.5v2.6" stroke="#8f9399" stroke-width="0.5"/><circle cx="562.2" cy="302.8" r="0.8" fill="#8f9399"/><circle cx="568" cy="302.8" r="0.8" fill="#8f9399"/>
<text font-size="5.3" font-weight="700" text-anchor="middle" fill="#333335"><tspan x="568.7" y="310.6">昆</tspan><tspan x="568.7" y="316.5">明</tspan><tspan x="568.7" y="322.4">汽</tspan><tspan x="568.7" y="328.3">车</tspan></text>
<text font-size="5.3" font-weight="700" text-anchor="middle" fill="#333335"><tspan x="562.0" y="310.6">客</tspan><tspan x="562.0" y="316.5">运</tspan><tspan x="562.0" y="322.4">站</tspan></text>
<circle cx="717.9" cy="380.8" r="4.2" fill="none" stroke="#94a49b" stroke-width="0.6"/><path d="M715.2,383 l1.7,-4 l1.1,2.4 l1,-1.5 l1.7,3.1z" fill="#94a49b"/>
<text transform="translate(717.9,391.45) scale(1,0.86)" font-size="5.35" font-weight="700" text-anchor="middle" fill="#333335" letter-spacing="0.25">宝海公园</text>
<text transform="translate(548.0,273.22) scale(1,0.86)" font-size="7.40" font-weight="700" text-anchor="middle" fill="#ffffff" letter-spacing="0.25">盘</text>
<text transform="translate(545.0,298.92) scale(1,0.86)" font-size="7.40" font-weight="700" text-anchor="middle" fill="#ffffff" letter-spacing="0.25">龙</text>
<text transform="translate(540.8,325.22) scale(1,0.86)" font-size="7.40" font-weight="700" text-anchor="middle" fill="#ffffff" letter-spacing="0.25">江</text>
<text x="55.5" y="458" font-size="18" letter-spacing="7" fill="#4c4d50" font-weight="400">滇池</text>
<circle cx="30.9" cy="26.7" r="11.3" fill="none" stroke="#505052" stroke-width="0.9"/><path d="M30.9,35.2V18.6M27.5,22.6L30.9,18.3L34.3,22.6" fill="none" stroke="#606062" stroke-width="1.05"/>
<text transform="translate(30,52.4) scale(0.82,1)" font-size="13.6" font-weight="bold" text-anchor="middle" fill="#505052">N</text>
</g>
</svg>
</body></html>
